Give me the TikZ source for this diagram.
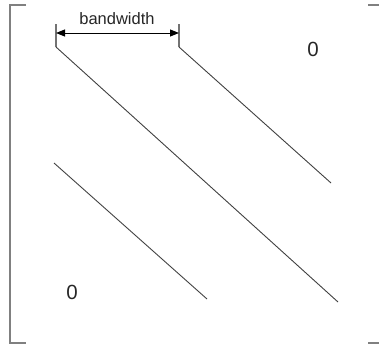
\documentclass[tikz,border=0pt]{standalone}
\usepackage{fontspec}
\setmainfont{Liberation Sans}
\usetikzlibrary{arrows.meta}

\begin{document}
\begin{tikzpicture}[x=1pt, y=-1pt,
  brak/.style={draw=black!50, line width=1.6pt},
  tick/.style={draw=black!55, line width=1.4pt},
  band/.style={draw=black!75, line width=0.9pt},
  dimarr/.style={draw=black, line width=1pt, {Triangle[length=9pt,width=7pt]}-{Triangle[length=9pt,width=7pt]}},
  zero/.style={font=\fontsize{20.5}{22}\selectfont, text=black!85},
  lbl/.style={font=\fontsize{16.5}{18}\selectfont, text=black!85},
]
\useasboundingbox (0,0) rectangle (379,348);

% matrix brackets
\draw[brak] (26,5) -- (10,5) -- (10,343) -- (26,343);
\draw[brak] (368,5) -- (380,5);
\draw[brak] (368,343) -- (380,343);

% bandwidth marker
\coordinate (bl) at (56,24);
\coordinate (bla) at (56,33);
\coordinate (blb) at (56,47);
\coordinate (br) at (179,24);
\coordinate (bra) at (179,33);
\coordinate (brb) at (179,47);
\draw[tick] (bl) -- (blb);
\draw[tick] (br) -- (brb);
\draw[dimarr] (bla) -- (bra);
\node[lbl] (bw) at (117,19) {bandwidth};

% diagonals
\coordinate (up1) at (179,47);
\coordinate (up2) at (331,183);
\coordinate (md1) at (56,47);
\coordinate (md2) at (338,302);
\coordinate (lo1) at (54,163);
\coordinate (lo2) at (207,299);
\draw[band] (up1) -- (up2);
\draw[band] (md1) -- (md2);
\draw[band] (lo1) -- (lo2);

\node[zero] (zup) at (313,49) {0};
\node[zero] (zlo) at (72,292) {0};
\end{tikzpicture}
\end{document}
